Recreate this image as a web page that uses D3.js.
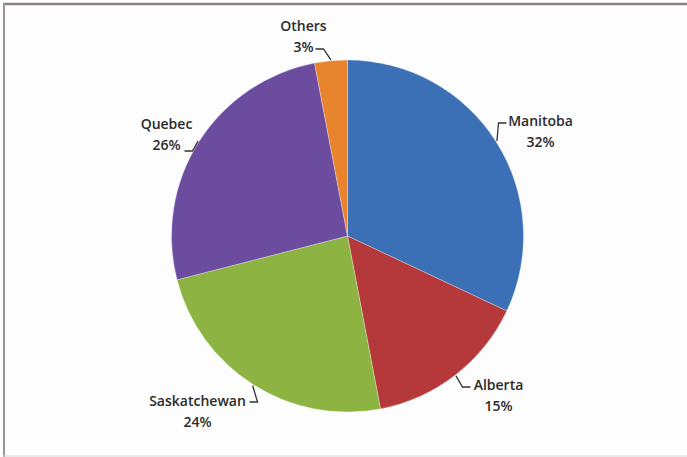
<!DOCTYPE html>
<html>
<head>
<meta charset="utf-8">
<script src="https://cdn.jsdelivr.net/npm/d3@7"></script>
<style>
  html, body { margin: 0; padding: 0; background: #ffffff; }
  svg { display: block; }
</style>
</head>
<body>
<svg id="chart" width="687" height="457"></svg>
<script>
// ---- data ----
const categories = ["Manitoba", "Alberta", "Saskatchewan", "Quebec", "Others"];
const shares = [32, 15, 24, 26, 3];
const pctLabels = ["32%", "15%", "24%", "26%", "3%"];
const colors = ["#3b70b6", "#b5393b", "#8db443", "#6b4c9f", "#e8832e"];

// ---- layout (label placement relative to pie centre) ----
const labelCenter = [[193, -110], [151, 154], [-150, 170], [-181, -107], [-44, -205]];
const leaderAnchor = [[159, -113], [123, 151], [-98, 166], [-163, -85], [-32, -187]];

const W = 687, H = 457;
const cx = 347.5, cy = 236, R = 176;
const svg = d3.select("#chart");

// frame
svg.append("rect").attr("x", 0).attr("y", 0).attr("width", W).attr("height", H).attr("fill", "#fdfdfd");
svg.append("line").attr("x1", 3).attr("x2", W).attr("y1", 4).attr("y2", 4)
   .attr("stroke", "#8c8585").attr("stroke-width", 2.5);
svg.append("line").attr("x1", 4).attr("x2", 4).attr("y1", 3).attr("y2", H)
   .attr("stroke", "#9a9494").attr("stroke-width", 2);
svg.append("line").attr("x1", 3).attr("x2", W).attr("y1", 456).attr("y2", 456)
   .attr("stroke", "#d8d6d6").attr("stroke-width", 1);

const g = svg.append("g").attr("transform", `translate(${cx},${cy})`);

const pie = d3.pie().sort(null).value(d => d)(shares);
const arc = d3.arc().innerRadius(0).outerRadius(R);

g.selectAll("path.slice").data(pie).join("path")
  .attr("class", "slice")
  .attr("d", arc)
  .attr("fill", (d, i) => colors[i])
  .attr("stroke", "#ffffff")
  .attr("stroke-width", 0.3);

// leaders
pie.forEach((d, i) => {
  const a = (d.startAngle + d.endAngle) / 2;
  const ex = (R + 1) * Math.sin(a), ey = -(R + 1) * Math.cos(a);
  const [ax, ay] = leaderAnchor[i];
  const elbowX = ax + (ex > ax ? 8 : -8);
  const pts = Math.abs(ey - ay) < 4 ? [[ax, ay], [ex, ay]] : [[ax, ay], [elbowX, ay], [ex, ey]];
  g.append("path")
    .attr("d", d3.line()(pts))
    .attr("fill", "none")
    .attr("stroke", "#333")
    .attr("stroke-width", 1.3);
});

// labels
categories.forEach((c, i) => {
  const [lx, ly] = labelCenter[i];
  const t = g.append("text")
    .attr("text-anchor", "middle")
    .attr("font-family", "'Open Sans', 'DejaVu Sans', sans-serif")
    .attr("font-weight", 600)
    .attr("font-size", 14)
    .attr("fill", "#2b2b2b");
  t.append("tspan").attr("x", lx).attr("y", ly).text(c);
  t.append("tspan").attr("x", lx).attr("y", ly + 21).text(pctLabels[i]);
});
</script>
</body>
</html>
